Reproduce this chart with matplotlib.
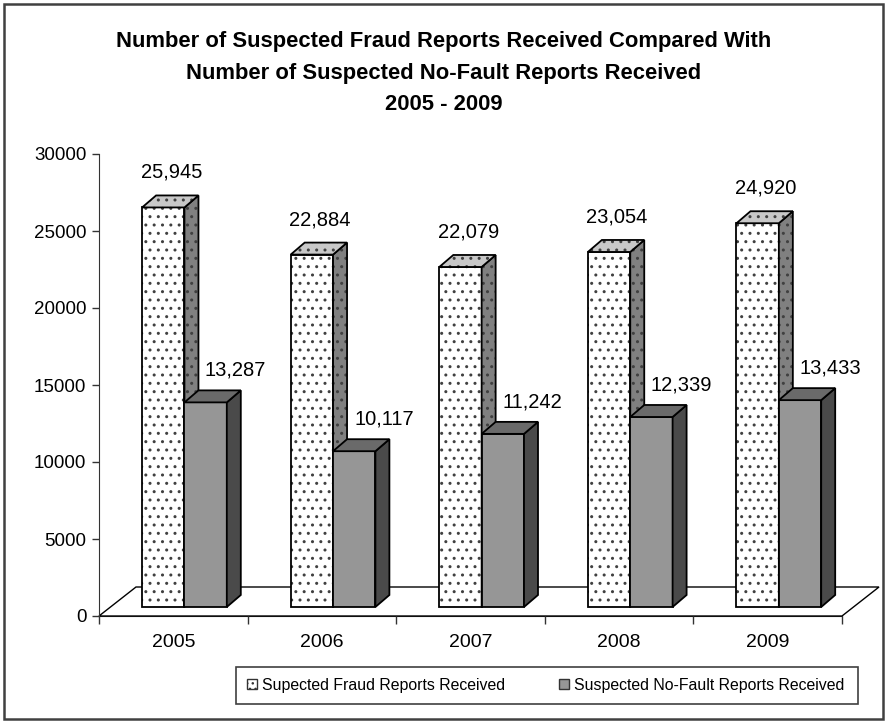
import matplotlib
matplotlib.use("Agg")
import matplotlib.pyplot as plt
from matplotlib.patches import Polygon, Rectangle, Patch
import numpy as np

plt.rcParams['font.family'] = ['Liberation Sans', 'DejaVu Sans']
plt.rcParams['hatch.linewidth'] = 1.0

years = ["2005", "2006", "2007", "2008", "2009"]
fraud = [25945, 22884, 22079, 23054, 24920]
nofault = [13287, 10117, 11242, 12339, 13433]
series_names = ["Supected Fraud Reports Received", "Suspected No-Fault Reports Received"]
title_lines = ["Number of Suspected Fraud Reports Received Compared With",
               "Number of Suspected No-Fault Reports Received",
               "2005 - 2009"]

W, H = 887, 723
fig = plt.figure(figsize=(W / 100, H / 100), dpi=100)
ax = fig.add_axes([99 / W, (H - 616) / H, (842 - 99) / W, (616 - 154) / H])
ax.set_xlim(0, len(years))
ax.set_ylim(0, 30000)

# pixel -> data helpers for the fake 3d depth
px_x = len(years) / (842 - 99)
px_y = 30000 / (616 - 154)

floor_dx, floor_dy = 37 * px_x, 29 * px_y
bar_dx, bar_dy = 14 * px_x, 12 * px_y
base = 9 * px_y
bw = 0.285
offs = [0.29, 0.29 + bw]

# floor
n = len(years)
ax.add_patch(Polygon([(0, 0), (n, 0), (n + floor_dx, floor_dy), (floor_dx, floor_dy)],
                     closed=True, facecolor="white", edgecolor="black", lw=1.0,
                     clip_on=False, zorder=1))

styles = [
    dict(front="white", top="#c8c8c8", side="#808080", hatch=".."),
    dict(front="#969696", top="#6a6a6a", side="#4a4a4a", hatch=None),
]


def face(pts, fc, hatch, z):
    if hatch:
        ax.add_patch(Polygon(pts, closed=True, facecolor=fc, edgecolor="#404040",
                             lw=0, hatch=hatch, clip_on=False, zorder=z))
        ax.add_patch(Polygon(pts, closed=True, facecolor="none", edgecolor="black",
                             lw=1.3, clip_on=False, zorder=z))
    else:
        ax.add_patch(Polygon(pts, closed=True, facecolor=fc, edgecolor="black",
                             lw=1.3, clip_on=False, zorder=z))


z = 2
for i in range(n):
    for s, vals in enumerate([fraud, nofault]):
        v = vals[i]
        st = styles[s]
        x0 = i + offs[s]
        x1 = x0 + bw
        y0, y1 = base, base + v
        face([(x0, y0), (x1, y0), (x1, y1), (x0, y1)], st["front"], st["hatch"], z)
        face([(x1, y0), (x1 + bar_dx, y0 + bar_dy), (x1 + bar_dx, y1 + bar_dy), (x1, y1)],
             st["side"], st["hatch"], z)
        face([(x0, y1), (x1, y1), (x1 + bar_dx, y1 + bar_dy), (x0 + bar_dx, y1 + bar_dy)],
             st["top"], st["hatch"], z)
        z += 1
        cx = (x0 + x1) / 2
        if s == 0:
            ax.text(cx + 8 * px_x, y1 + 35 * px_y, f"{v:,}", ha="center", va="center",
                    fontsize=14.5, zorder=50)
        else:
            ax.text(cx + 30 * px_x, y1 + 32 * px_y, f"{v:,}", ha="center", va="center",
                    fontsize=14.5, zorder=50)

# axes styling
for sp in ["top", "right"]:
    ax.spines[sp].set_visible(False)
ax.spines["left"].set_color("#333333")
ax.spines["bottom"].set_color("#333333")
ax.spines["bottom"].set_zorder(0.5)
ax.set_yticks(np.arange(0, 30001, 5000))
ax.set_yticklabels([str(t) for t in range(0, 30001, 5000)])
ax.tick_params(axis="y", direction="out", length=5, width=1, color="#333333",
               labelsize=13.5, pad=4)
ax.set_xticks(np.arange(0, n + 1))
ax.set_xticklabels([])
ax.tick_params(axis="x", which="major", direction="out", length=6, width=1, color="#333333")
ax.set_xticks(np.arange(n) + 0.5, minor=True)
ax.set_xticklabels(years, minor=True)
ax.tick_params(axis="x", which="minor", length=0, labelsize=14, pad=13)
ax.patch.set_alpha(0)

# title
for line, yy in zip(title_lines, [42, 74, 104]):
    fig.text(443.5 / W, 1 - yy / H, line, ha="center", va="center",
             fontsize=15.8, fontweight="bold")

# legend
handles = [Patch(facecolor="white", edgecolor="#333333", hatch="..."),
           Patch(facecolor="#969696", edgecolor="#333333")]
leg = fig.legend(handles, series_names, loc="center", bbox_to_anchor=(546 / W, 1 - 685.5 / H),
                 ncol=2, frameon=False, fontsize=11.4, handlelength=0.6, handleheight=0.6,
                 handletextpad=0.35, columnspacing=3.4)
fig.add_artist(Rectangle((236 / W, 1 - 704 / H), (858 - 236) / W, (704 - 667) / H,
                         transform=fig.transFigure, facecolor="none", edgecolor="#404040", lw=1.2))

# outer border
fig.add_artist(Rectangle((4 / W, 4 / H), (883 - 4) / W, (719 - 4) / H,
                         transform=fig.transFigure, facecolor="none", edgecolor="#404040", lw=1.8))

fig.savefig("out.png", dpi=100)
